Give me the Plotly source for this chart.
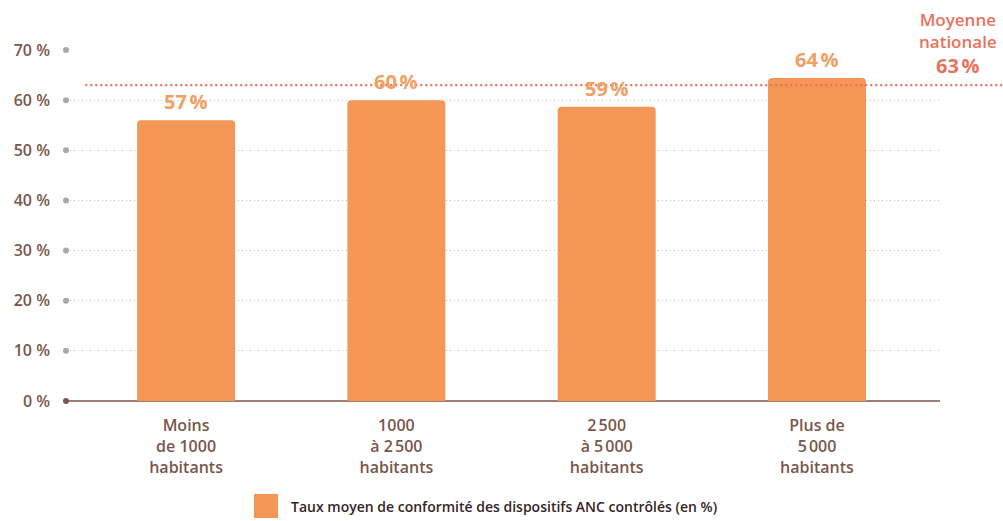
import plotly.graph_objects as go

# data
categories = ["Moins<br>de 1000<br>habitants", "1000<br>à 2\u202f500<br>habitants",
              "2\u202f500<br>à 5\u202f000<br>habitants", "Plus de<br>5\u202f000<br>habitants"]
values = [56.0, 60.0, 58.7, 64.4]
value_labels = ["57\u202f%", "60\u202f%", "59\u202f%", "64\u202f%"]
national = 63
national_label = "63\u202f%"
y_ticks = [0, 10, 20, 30, 40, 50, 60, 70]
legend_text = "Taux moyen de conformité des dispositifs ANC contrôlés (en %)"

BAR = "#F39656"
LABEL = "#F1A064"
RED = "#E8735C"
BROWN = "#7A574B"
FONT = "Open Sans"

xpos = list(range(len(categories)))

fig = go.Figure()
fig.add_trace(go.Bar(
    x=xpos, y=values, width=0.466,
    marker=dict(color=BAR, cornerradius=4, line=dict(width=0)),
    showlegend=False, hoverinfo="skip",
))

# dots at the start of each gridline, on an overlay axis pinned to the left edge
fig.add_trace(go.Scatter(
    x=[0] * len(y_ticks), y=y_ticks, xaxis="x2", mode="markers",
    marker=dict(size=6, color=[BROWN if t == 0 else "#A8A8A8" for t in y_ticks]),
    cliponaxis=False, showlegend=False, hoverinfo="skip",
))

# value labels above bars
for x, v, t in zip(xpos, values, value_labels):
    fig.add_annotation(x=x, y=v, text=t, showarrow=False, yanchor="bottom", yshift=3,
                       font=dict(family=FONT, size=20, color=LABEL, weight=700))

# national average line + label
fig.add_shape(type="line", xref="paper", yref="y", x0=0.022, x1=1.08, y0=national, y1=national,
              line=dict(color=RED, width=2.2, dash="2px,3px"), layer="above")
fig.add_annotation(xref="paper", yref="y", x=1.0206, y=national, xanchor="center",
                   yanchor="bottom", yshift=30,
                   text="Moyenne<br>nationale", showarrow=False, align="center",
                   font=dict(family=FONT, size=17, color=RED, weight=600))
fig.add_annotation(xref="paper", yref="y", x=1.0206, y=national, xanchor="center",
                   yanchor="bottom", yshift=4,
                   text=national_label, showarrow=False,
                   font=dict(family=FONT, size=20, color=RED, weight=700))

# legend drawn by hand
fig.add_shape(type="rect", xref="paper", yref="paper", x0=(254 - 66) / 874, x1=(278 - 66) / 874,
              y0=-(518 - 401) / 351, y1=-(494 - 401) / 351, fillcolor=BAR, line=dict(width=0))
fig.add_annotation(xref="paper", yref="paper", x=(289 - 66) / 874, y=-(506 - 401) / 351,
                   xanchor="left", yanchor="middle", text=legend_text, showarrow=False,
                   font=dict(family=FONT, size=14, color="#35261F", weight=600))

fig.update_layout(
    width=1003, height=521,
    margin=dict(l=66, r=63, t=50, b=120),
    plot_bgcolor="white", paper_bgcolor="white",
    font=dict(family=FONT, color=BROWN),
    xaxis=dict(
        tickvals=xpos, ticktext=categories, range=[-0.571, 3.585],
        showgrid=False, zeroline=False, showline=False, ticks="",
        ticklabelstandoff=13,
        tickfont=dict(size=16, color=BROWN, weight=600),
    ),
    xaxis2=dict(overlaying="x", range=[0, 1], visible=False),
    yaxis=dict(
        range=[0, 70], tickvals=y_ticks, ticktext=[f"{t} %" for t in y_ticks],
        showgrid=True, gridcolor="#BDBDBD", griddash="1px,3px", gridwidth=1,
        zeroline=True, zerolinecolor="#9C7F74", zerolinewidth=2,
        showline=False, ticks="", ticklabelstandoff=15,
        tickfont=dict(size=16, color=BROWN, weight=600),
    ),
    bargap=0.5,
)

fig.write_html("out.html", config={"displayModeBar": False},
               post_script="document.body.style.margin='0';")
